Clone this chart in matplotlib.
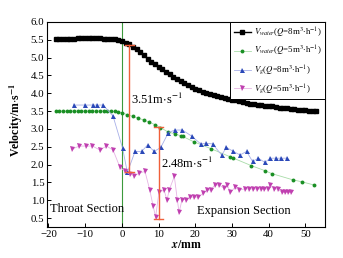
"""Velocity profiles of water and gas through the throat / expansion section."""

import matplotlib
matplotlib.use("Agg")
import matplotlib.pyplot as plt

plt.rcParams["font.family"] = ["Liberation Serif", "DejaVu Serif"]
plt.rcParams["mathtext.fontset"] = "stix"

# V_water, Q = 8 m3/h
x_w8 = list(range(-18, 54))
v_w8 = [5.52, 5.52, 5.52, 5.53, 5.53, 5.53, 5.54, 5.54, 5.54, 5.54, 5.54, 5.54, 5.54, 5.53,
        5.53, 5.52, 5.51, 5.49, 5.46, 5.42, 5.37, 5.31, 5.23, 5.15, 5.06, 4.97, 4.89, 4.81,
        4.74, 4.67, 4.60, 4.53, 4.47, 4.40, 4.34, 4.28, 4.22, 4.17, 4.12, 4.08, 4.04, 4.01,
        3.98, 3.95, 3.92, 3.89, 3.86, 3.84, 3.82, 3.80, 3.77, 3.75, 3.73, 3.71, 3.70, 3.68,
        3.67, 3.65, 3.64, 3.63, 3.61, 3.60, 3.59, 3.58, 3.56, 3.55, 3.54, 3.53, 3.52, 3.51,
        3.50, 3.49]

# V_water, Q = 5 m3/h
x_w5 = [-18, -17, -16, -15, -14, -13, -12, -11, -10, -9, -8, -7, -6, -5, -4, -3, -2, -1, 0,
        1.5, 3.0, 4.5, 6.0, 7.5, 9.0, 10.5, 12.5, 14.5, 16.0, 16.6, 19.6, 24.2, 29.5, 30.2,
        35.3, 39.0, 40.8, 46.7, 49.0, 52.3]
v_w5 = [3.50, 3.50, 3.50, 3.50, 3.50, 3.50, 3.50, 3.50, 3.50, 3.50, 3.50, 3.50, 3.50, 3.50,
        3.50, 3.50, 3.49, 3.47, 3.45, 3.40, 3.35, 3.30, 3.25, 3.19, 3.12, 3.04, 2.92, 2.86,
        2.81, 2.79, 2.64, 2.45, 2.22, 2.19, 1.97, 1.83, 1.75, 1.57, 1.52, 1.43]

# V_g, Q = 8 m3/h
x_g8 = [-13.0, -10.1, -7.8, -6.9, -5.1, -2.4, 0.2, 1.5, 3.6, 5.4, 7.0, 8.8, 10.6, 12.7, 14.5,
        16.5, 19.0, 21.5, 23.0, 24.7, 27.2, 28.5, 30.4, 32.2, 34.0, 35.6, 37.2, 39.0, 40.4,
        42.0, 43.5, 45.1]
v_g8 = [3.67, 3.67, 3.67, 3.67, 3.67, 3.36, 2.46, 1.78, 2.37, 2.37, 2.55, 2.37, 2.48, 2.90,
        2.97, 2.97, 2.80, 2.58, 2.60, 2.58, 2.27, 2.48, 2.37, 2.27, 2.37, 2.09, 2.18, 2.06,
        2.18, 2.18, 2.18, 2.18]

# V_g, Q = 5 m3/h
x_g5 = [-13.7, -11.6, -9.8, -8.0, -6.0, -4.2, -2.4, -0.5, 0.8, 2.2, 3.4, 4.7, 6.3, 7.6, 8.5,
        9.2, 10.1, 11.5, 12.3, 12.9, 14.3, 15.1, 15.6, 16.4, 17.6, 18.5, 19.7, 20.8, 22.2,
        23.2, 24.3, 25.3, 26.5, 27.8, 28.7, 29.6, 30.8, 32.0, 33.6, 34.7, 35.6, 36.7, 37.8,
        38.8, 39.9, 40.4, 41.5, 42.5, 43.6, 44.5, 45.3, 46.2]
v_g5 = [2.43, 2.52, 2.52, 2.52, 2.41, 2.52, 2.41, 1.92, 1.82, 1.73, 1.69, 1.76, 1.81, 1.29,
        0.85, 0.53, 1.22, 1.29, 1.00, 1.29, 1.67, 1.02, 0.66, 1.02, 1.02, 1.09, 1.09, 1.09,
        1.20, 1.29, 1.29, 1.43, 1.43, 1.34, 1.43, 1.22, 1.36, 1.29, 1.32, 1.32, 1.32, 1.32,
        1.32, 1.32, 1.32, 1.42, 1.32, 1.32, 1.22, 1.22, 1.22, 1.22]

# velocity-difference markers
gaps_x = [2.0, 10.0]
gaps_lo = [1.80, 0.48]
gaps_hi = [5.35, 3.05]
gaps_text = [r"3.51m$\cdot$s$^{-1}$", r"2.48m$\cdot$s$^{-1}$"]

fig, ax = plt.subplots(figsize=(3.43, 2.58), dpi=100)
fig.subplots_adjust(left=0.137, right=0.948, top=0.915, bottom=0.12)

ax.axvline(0, color="#3c9a3c", linewidth=0.8, zorder=1)

ax.plot(x_w8, v_w8, "-s", color="black", markersize=2.3, linewidth=1.0,
        label=r"$V_{water}$($Q$=8m$^3$$\cdot$h$^{-1}$)", zorder=4)
ax.plot(x_w5, v_w5, "-o", color="#a8dca8", markersize=2.8, linewidth=0.6,
        markerfacecolor="#1a8f24", markeredgewidth=0,
        label=r"$V_{water}$($Q$=5m$^3$$\cdot$h$^{-1}$)", zorder=3)
ax.plot(x_g8, v_g8, "-^", color="#a8b0e8", markersize=3.6, linewidth=0.6,
        markerfacecolor="#2a48b8", markeredgewidth=0,
        label=r"$V_g$($Q$=8m$^3$$\cdot$h$^{-1}$)", zorder=3)
ax.plot(x_g5, v_g5, "-v", color="#e6b4e4", markersize=3.6, linewidth=0.6,
        markerfacecolor="#c040b0", markeredgewidth=0,
        label=r"$V_g$($Q$=5m$^3$$\cdot$h$^{-1}$)", zorder=3)

for gx, lo, hi in zip(gaps_x, gaps_lo, gaps_hi):
    ax.plot([gx, gx], [lo, hi], color="#f0603a", linewidth=1.0, zorder=5)
    for y in (lo, hi):
        ax.plot([gx - 1.2, gx + 1.2], [y, y], color="#f0603a", linewidth=1.0, zorder=5)
ax.text(2.4, 3.82, gaps_text[0], fontsize=9, va="center", ha="left")
ax.text(10.6, 2.04, gaps_text[1], fontsize=9, va="center", ha="left")

ax.text(-19.7, 0.76, "Throat Section", fontsize=9, va="center", ha="left")
ax.text(20.5, 0.71, "Expansion Section", fontsize=9, va="center", ha="left")

ax.set_xlim(-20.4, 55.4)
ax.set_ylim(0.25, 6.0)
ax.set_xticks([-20, -10, 0, 10, 20, 30, 40, 50])
ax.set_yticks([0.5, 1.0, 1.5, 2.0, 2.5, 3.0, 3.5, 4.0, 4.5, 5.0, 5.5, 6.0])
ax.set_yticklabels([f"{v:.1f}" for v in ax.get_yticks()])
ax.tick_params(direction="in", length=3, width=0.7, labelsize=7.8, pad=2)
for spine in ax.spines.values():
    spine.set_linewidth(0.8)

ax.set_xlabel(r"$\mathbfit{x}$/mm", fontsize=8.5, fontweight="bold", labelpad=0)
ax.set_ylabel(r"Velocity/m$\cdot$s$^{\mathbf{-1}}$", fontsize=8.5, fontweight="bold", labelpad=1)
ax.yaxis.set_label_coords(-0.08, 0.52)

leg = ax.legend(loc="upper right", fontsize=6.3, frameon=True, fancybox=False,
                borderaxespad=0, handlelength=2.0, handletextpad=0.3,
                labelspacing=0.55, borderpad=0.4, markerscale=1.0)
leg.get_frame().set_edgecolor("black")
leg.get_frame().set_linewidth(0.7)
leg.get_frame().set_alpha(1.0)

fig.savefig("out.png", dpi=100)
